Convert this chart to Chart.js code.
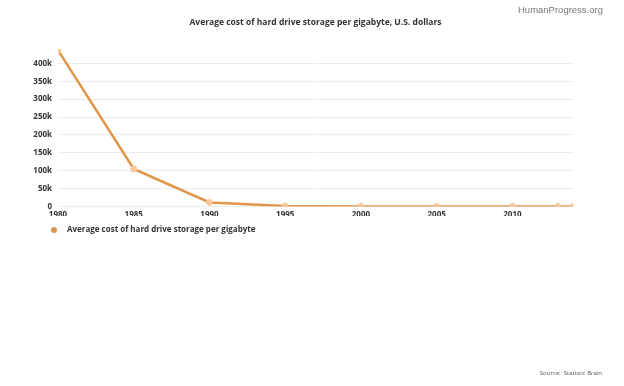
<!DOCTYPE html>
<html>
<head>
<meta charset="utf-8">
<script src="https://cdn.jsdelivr.net/npm/chart.js@4"></script>
<style>
  html, body { margin: 0; padding: 0; background: #fff; }
  #wrap { position: relative; width: 624px; height: 386px; }
  #brand { position: absolute; right: 21px; top: 4px; font-family: "Liberation Sans", Arial, sans-serif; font-size: 9.5px; color: #777; }
  #source { position: absolute; right: 22px; top: 369px; font-family: "Open Sans", sans-serif; font-size: 6px; color: #555; }
</style>
</head>
<body>
<div id="wrap">
  <canvas id="costChart" width="624" height="386"></canvas>
  <div id="brand">HumanProgress.org</div>
  <div id="source">Source:&nbsp; Statistic Brain</div>
</div>
<script>
// data
const years = [1980, 1985, 1990, 1995, 2000, 2005, 2010, 2013, 2014];
const costs = [437500, 105000, 11200, 1120, 11, 1.24, 0.09, 0.05, 0.03];
const xTickValues = [1980, 1985, 1990, 1995, 2000, 2005, 2010];
const yTickValues = [0, 50000, 100000, 150000, 200000, 250000, 300000, 350000, 400000];
const seriesName = "Average cost of hard drive storage per gigabyte";
const titleText = "Average cost of hard drive storage per gigabyte, U.S. dollars";

const lineColor = "#e0964a";
const ctx = document.getElementById("costChart").getContext("2d");

// legend marker: small dot with some space after it
const dot = document.createElement("canvas");
dot.width = 16;
dot.height = 8;
const dctx = dot.getContext("2d");
dctx.fillStyle = lineColor;
dctx.beginPath();
dctx.arc(3, 4, 3, 0, Math.PI * 2);
dctx.fill();

// move legend under the plot and centre the title on the page
const shiftBoxes = {
  id: "shiftBoxes",
  afterLayout(chart) {
    chart.legend.left += 45;
    chart.titleBlock.left += 58;
  },
};

new Chart(ctx, {
  type: "line",
  data: {
    datasets: [
      {
        label: seriesName,
        data: years.map((y, i) => ({ x: y, y: costs[i] })),
        borderColor: lineColor,
        backgroundColor: lineColor,
        borderWidth: 2.5,
        pointRadius: 3,
        pointBackgroundColor: "#f7c99a",
        pointBorderColor: "#f7c99a",
        pointBorderWidth: 1,
        tension: 0,
      },
    ],
  },
  options: {
    responsive: false,
    animation: false,
    layout: {
      padding: { top: 17, right: 51, bottom: 142, left: 0 },
    },
    scales: {
      x: {
        type: "linear",
        min: 1980,
        max: 2014,
        afterBuildTicks: (scale) => {
          scale.ticks = xTickValues.map((v) => ({ value: v }));
        },
        grid: { display: false },
        border: { display: false },
        ticks: {
          autoSkip: false,
          padding: -4,
          color: "#333",
          font: { family: "Open Sans", size: 8, weight: "bold" },
          callback: (v) => String(v),
        },
      },
      y: {
        min: 0,
        max: 440000,
        afterBuildTicks: (scale) => {
          scale.ticks = yTickValues.map((v) => ({ value: v }));
        },
        afterFit: (scale) => {
          scale.width = 58;
        },
        grid: { color: "#ececec", drawTicks: false },
        border: { display: false },
        ticks: {
          autoSkip: false,
          padding: 6,
          color: "#333",
          font: { family: "Open Sans", size: 8, weight: "bold" },
          callback: (v) => (v === 0 ? "0" : v / 1000 + "k"),
        },
      },
    },
    plugins: {
      title: {
        display: true,
        text: titleText,
        color: "#333",
        font: { family: "Open Sans", size: 8.5, weight: "bold" },
        padding: { top: 0, bottom: 22 },
      },
      legend: {
        position: "bottom",
        align: "start",
        labels: {
          usePointStyle: true,
          padding: 10,
          color: "#333",
          font: { family: "Open Sans", size: 8, weight: "bold" },
          generateLabels: (chart) =>
            Chart.defaults.plugins.legend.labels.generateLabels(chart).map((l) => ({
              ...l,
              pointStyle: dot,
              fillStyle: lineColor,
              strokeStyle: lineColor,
            })),
        },
      },
      tooltip: { enabled: false },
    },
  },
  plugins: [shiftBoxes],
});
</script>
</body>
</html>
